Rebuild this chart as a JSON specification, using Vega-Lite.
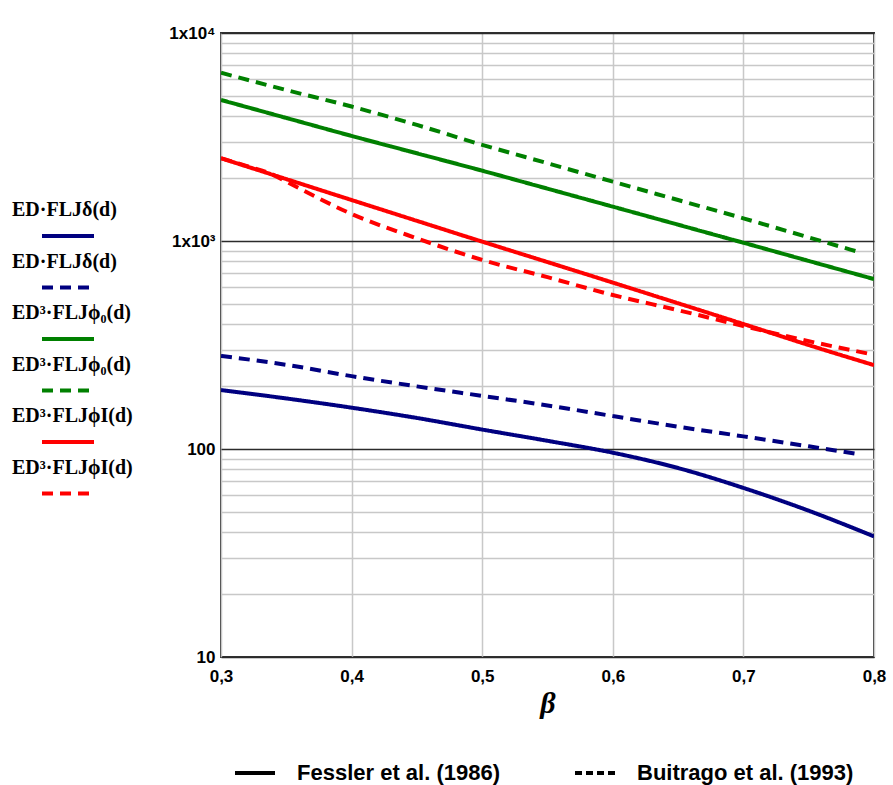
{
  "$schema": "https://vega.github.io/schema/vega-lite/v6.json",
  "width": 653,
  "height": 624,
  "autosize": {"type": "none"},
  "padding": {"left": 221, "top": 33, "right": 19, "bottom": 128},
  "background": "white",
  "config": {
    "view": {"stroke": "#333333", "strokeWidth": 2},
    "axis": {"ticks": false, "domain": false, "labelColor": "black", "labelFont": "Liberation Sans", "labelFontWeight": "bold", "labelFontSize": 17}
  },
  "datasets": {
    "curves": [
      {"beta": 0.3, "value": 192, "series": "d1", "source": "Fessler et al. (1986)"},
      {"beta": 0.35, "value": 175, "series": "d1", "source": "Fessler et al. (1986)"},
      {"beta": 0.4, "value": 158, "series": "d1", "source": "Fessler et al. (1986)"},
      {"beta": 0.45, "value": 141, "series": "d1", "source": "Fessler et al. (1986)"},
      {"beta": 0.5, "value": 124, "series": "d1", "source": "Fessler et al. (1986)"},
      {"beta": 0.55, "value": 109.5, "series": "d1", "source": "Fessler et al. (1986)"},
      {"beta": 0.6, "value": 96, "series": "d1", "source": "Fessler et al. (1986)"},
      {"beta": 0.65, "value": 81, "series": "d1", "source": "Fessler et al. (1986)"},
      {"beta": 0.7, "value": 65, "series": "d1", "source": "Fessler et al. (1986)"},
      {"beta": 0.75, "value": 50.5, "series": "d1", "source": "Fessler et al. (1986)"},
      {"beta": 0.8, "value": 38, "series": "d1", "source": "Fessler et al. (1986)"},

      {"beta": 0.3, "value": 280, "series": "d2", "source": "Buitrago et al. (1993)"},
      {"beta": 0.35, "value": 254, "series": "d2", "source": "Buitrago et al. (1993)"},
      {"beta": 0.4, "value": 224, "series": "d2", "source": "Buitrago et al. (1993)"},
      {"beta": 0.45, "value": 200, "series": "d2", "source": "Buitrago et al. (1993)"},
      {"beta": 0.5, "value": 180, "series": "d2", "source": "Buitrago et al. (1993)"},
      {"beta": 0.55, "value": 162, "series": "d2", "source": "Buitrago et al. (1993)"},
      {"beta": 0.6, "value": 144, "series": "d2", "source": "Buitrago et al. (1993)"},
      {"beta": 0.65, "value": 128, "series": "d2", "source": "Buitrago et al. (1993)"},
      {"beta": 0.7, "value": 115, "series": "d2", "source": "Buitrago et al. (1993)"},
      {"beta": 0.75, "value": 103, "series": "d2", "source": "Buitrago et al. (1993)"},
      {"beta": 0.79, "value": 94, "series": "d2", "source": "Buitrago et al. (1993)"},

      {"beta": 0.3, "value": 4766, "series": "p1", "source": "Fessler et al. (1986)"},
      {"beta": 0.35, "value": 3905, "series": "p1", "source": "Fessler et al. (1986)"},
      {"beta": 0.4, "value": 3200, "series": "p1", "source": "Fessler et al. (1986)"},
      {"beta": 0.45, "value": 2640, "series": "p1", "source": "Fessler et al. (1986)"},
      {"beta": 0.5, "value": 2178, "series": "p1", "source": "Fessler et al. (1986)"},
      {"beta": 0.55, "value": 1785, "series": "p1", "source": "Fessler et al. (1986)"},
      {"beta": 0.6, "value": 1463, "series": "p1", "source": "Fessler et al. (1986)"},
      {"beta": 0.65, "value": 1198, "series": "p1", "source": "Fessler et al. (1986)"},
      {"beta": 0.7, "value": 981, "series": "p1", "source": "Fessler et al. (1986)"},
      {"beta": 0.75, "value": 802, "series": "p1", "source": "Fessler et al. (1986)"},
      {"beta": 0.8, "value": 656, "series": "p1", "source": "Fessler et al. (1986)"},

      {"beta": 0.3, "value": 6440, "series": "p2", "source": "Buitrago et al. (1993)"},
      {"beta": 0.35, "value": 5320, "series": "p2", "source": "Buitrago et al. (1993)"},
      {"beta": 0.4, "value": 4430, "series": "p2", "source": "Buitrago et al. (1993)"},
      {"beta": 0.45, "value": 3614, "series": "p2", "source": "Buitrago et al. (1993)"},
      {"beta": 0.5, "value": 2900, "series": "p2", "source": "Buitrago et al. (1993)"},
      {"beta": 0.55, "value": 2365, "series": "p2", "source": "Buitrago et al. (1993)"},
      {"beta": 0.6, "value": 1928, "series": "p2", "source": "Buitrago et al. (1993)"},
      {"beta": 0.65, "value": 1574, "series": "p2", "source": "Buitrago et al. (1993)"},
      {"beta": 0.7, "value": 1285, "series": "p2", "source": "Buitrago et al. (1993)"},
      {"beta": 0.75, "value": 1041, "series": "p2", "source": "Buitrago et al. (1993)"},
      {"beta": 0.79, "value": 879, "series": "p2", "source": "Buitrago et al. (1993)"},

      {"beta": 0.3, "value": 2500, "series": "i1", "source": "Fessler et al. (1986)"},
      {"beta": 0.35, "value": 1984, "series": "i1", "source": "Fessler et al. (1986)"},
      {"beta": 0.4, "value": 1574, "series": "i1", "source": "Fessler et al. (1986)"},
      {"beta": 0.45, "value": 1250, "series": "i1", "source": "Fessler et al. (1986)"},
      {"beta": 0.5, "value": 993, "series": "i1", "source": "Fessler et al. (1986)"},
      {"beta": 0.55, "value": 792, "series": "i1", "source": "Fessler et al. (1986)"},
      {"beta": 0.6, "value": 631, "series": "i1", "source": "Fessler et al. (1986)"},
      {"beta": 0.65, "value": 502, "series": "i1", "source": "Fessler et al. (1986)"},
      {"beta": 0.7, "value": 399, "series": "i1", "source": "Fessler et al. (1986)"},
      {"beta": 0.75, "value": 316, "series": "i1", "source": "Fessler et al. (1986)"},
      {"beta": 0.8, "value": 253, "series": "i1", "source": "Fessler et al. (1986)"},

      {"beta": 0.3, "value": 2500, "series": "i2", "source": "Buitrago et al. (1993)"},
      {"beta": 0.32, "value": 2290, "series": "i2", "source": "Buitrago et al. (1993)"},
      {"beta": 0.34, "value": 2080, "series": "i2", "source": "Buitrago et al. (1993)"},
      {"beta": 0.35, "value": 1930, "series": "i2", "source": "Buitrago et al. (1993)"},
      {"beta": 0.4, "value": 1349, "series": "i2", "source": "Buitrago et al. (1993)"},
      {"beta": 0.45, "value": 1030, "series": "i2", "source": "Buitrago et al. (1993)"},
      {"beta": 0.5, "value": 811, "series": "i2", "source": "Buitrago et al. (1993)"},
      {"beta": 0.55, "value": 670, "series": "i2", "source": "Buitrago et al. (1993)"},
      {"beta": 0.6, "value": 550, "series": "i2", "source": "Buitrago et al. (1993)"},
      {"beta": 0.65, "value": 465, "series": "i2", "source": "Buitrago et al. (1993)"},
      {"beta": 0.7, "value": 390, "series": "i2", "source": "Buitrago et al. (1993)"},
      {"beta": 0.75, "value": 330, "series": "i2", "source": "Buitrago et al. (1993)"},
      {"beta": 0.795, "value": 288, "series": "i2", "source": "Buitrago et al. (1993)"}
    ]
  },
  "data": {"name": "curves"},
  "encoding": {
    "x": {
      "field": "beta", "type": "quantitative",
      "scale": {"domain": [0.3, 0.8], "nice": false, "zero": false},
      "axis": {
        "values": [0.3, 0.4, 0.5, 0.6, 0.7, 0.8],
        "labelExpr": "replace(format(datum.value, '.1f'), '.', ',')",
        "labelFlush": false,
        "labelPadding": 11,
        "grid": true, "gridColor": "#c8c8c8", "gridWidth": 1.5,
        "title": "β",
        "titleFont": "Liberation Serif", "titleFontSize": 30, "titleFontWeight": "bold", "titleFontStyle": "italic",
        "titleColor": "black", "titlePadding": 4
      }
    },
    "y": {
      "field": "value", "type": "quantitative",
      "scale": {"type": "log", "domain": [10, 10000], "nice": false},
      "axis": {
        "values": [10, 20, 30, 40, 50, 60, 70, 80, 90, 100, 200, 300, 400, 500, 600, 700, 800, 900, 1000, 2000, 3000, 4000, 5000, 6000, 7000, 8000, 9000, 10000],
        "labelExpr": "datum.value == 10 ? '10' : datum.value == 100 ? '100' : datum.value == 1000 ? '1x10³' : datum.value == 10000 ? '1x10⁴' : ''",
        "labelOverlap": false,
        "labelPadding": 6,
        "grid": true,
        "gridColor": {"condition": {"test": "datum.value == 10 || datum.value == 100 || datum.value == 1000 || datum.value == 10000", "value": "#2b2b2b"}, "value": "#c8c8c8"},
        "gridWidth": 1.5,
        "title": null
      }
    }
  },
  "layer": [
    {
      "mark": {"type": "line", "opacity": 0, "strokeWidth": 4, "color": "black"},
      "encoding": {
        "detail": {"field": "series"},
        "strokeDash": {
          "field": "source", "type": "nominal",
          "scale": {"domain": ["Fessler et al. (1986)", "Buitrago et al. (1993)"], "range": [[1, 0], [7, 4]]},
          "legend": {
            "orient": "none", "legendX": 12, "legendY": 718,
            "direction": "horizontal", "columns": 2, "title": null, "padding": 0,
            "symbolType": "stroke", "symbolSize": 1600, "symbolStrokeWidth": 4,
            "symbolStrokeColor": "black", "symbolOpacity": 1,
            "labelFont": "Liberation Sans", "labelFontSize": 22, "labelFontWeight": "bold",
            "labelColor": "black", "labelOffset": 20, "labelLimit": 400, "columnPadding": 66
          }
        }
      }
    },
    {
      "mark": {"type": "line", "strokeWidth": 4, "interpolate": "monotone", "clip": true},
      "encoding": {
        "color": {
          "field": "series", "type": "nominal",
          "scale": {"domain": ["d1", "d2", "p1", "p2", "i1", "i2"], "range": ["#000080", "#000080", "#008000", "#008000", "#ff0000", "#ff0000"]},
          "legend": {
            "orient": "none", "legendX": -181, "legendY": 175, "title": null, "padding": 0,
            "symbolType": "stroke", "symbolSize": 2704, "symbolStrokeWidth": 4, "rowPadding": 7.5,
            "labelFont": "Liberation Serif", "labelFontSize": 20, "labelFontWeight": "bold",
            "labelColor": "black", "labelOffset": -84, "labelBaseline": "alphabetic", "labelLimit": 400,
            "labelExpr": "(datum.label == 'd1' || datum.label == 'd2') ? 'ED·FLJδ(d)' : (datum.label == 'p1' || datum.label == 'p2') ? 'ED³·FLJϕ₀(d)' : 'ED³·FLJϕI(d)'",
            "encoding": {"labels": {"dy": {"value": -20}}}
          }
        },
        "strokeDash": {
          "field": "series", "type": "nominal",
          "scale": {"domain": ["d1", "d2", "p1", "p2", "i1", "i2"], "range": [[1, 0], [11, 7], [1, 0], [11, 7], [1, 0], [11, 7]]},
          "legend": {
            "orient": "none", "legendX": -181, "legendY": 175, "title": null, "padding": 0,
            "symbolType": "stroke", "symbolSize": 2704, "symbolStrokeWidth": 4, "rowPadding": 7.5,
            "labelFont": "Liberation Serif", "labelFontSize": 20, "labelFontWeight": "bold",
            "labelColor": "black", "labelOffset": -84, "labelBaseline": "alphabetic", "labelLimit": 400,
            "labelExpr": "(datum.label == 'd1' || datum.label == 'd2') ? 'ED·FLJδ(d)' : (datum.label == 'p1' || datum.label == 'p2') ? 'ED³·FLJϕ₀(d)' : 'ED³·FLJϕI(d)'",
            "encoding": {"labels": {"dy": {"value": -20}}}
          }
        }
      }
    }
  ],
  "resolve": {"scale": {"strokeDash": "independent", "color": "independent"}}
}
